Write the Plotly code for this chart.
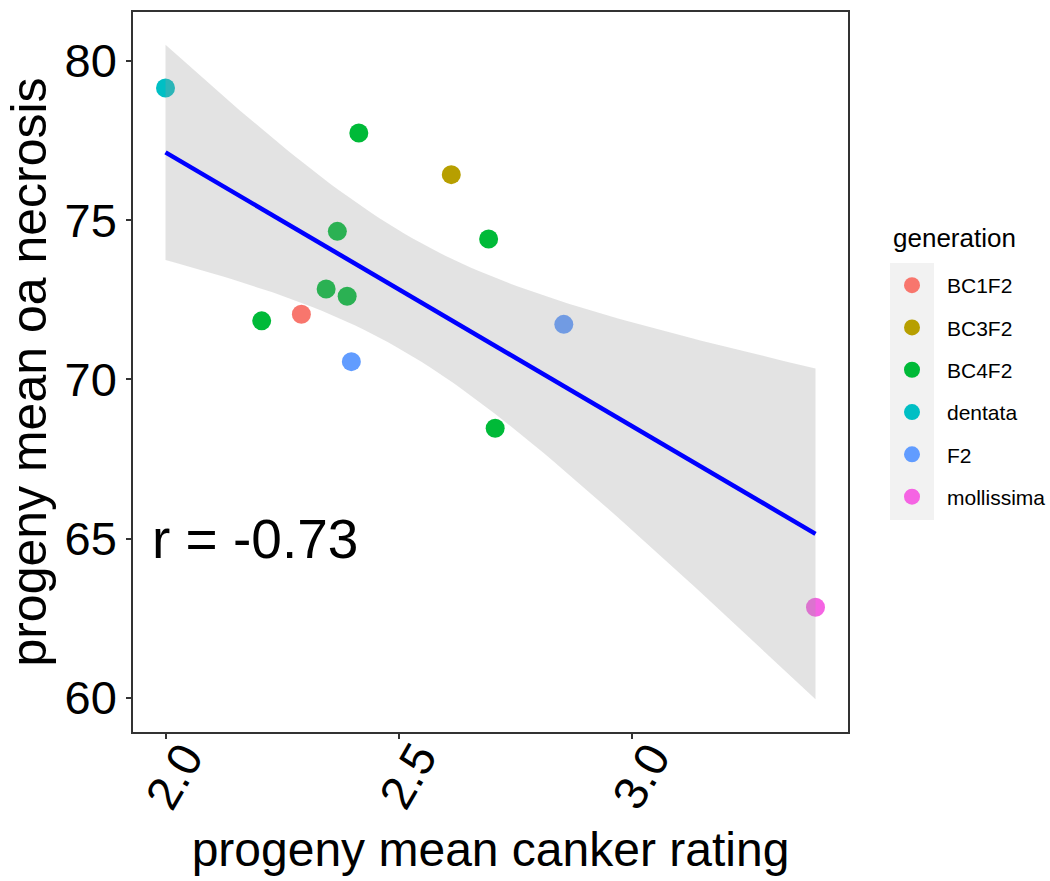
import numpy as np
import plotly.graph_objects as go

# ---- data ----
generations = ["BC1F2", "BC3F2", "BC4F2", "dentata", "F2", "mollissima"]
colors = ["#F8766D", "#B79F00", "#00BA38", "#00BFC4", "#619CFF", "#F564E3"]

bc1f2_x = [2.291]
bc1f2_y = [72.05]
bc3f2_x = [2.612]
bc3f2_y = [76.43]
bc4f2_x = [2.414, 2.368, 2.344, 2.389, 2.206, 2.692, 2.706]
bc4f2_y = [77.74, 74.65, 72.84, 72.61, 71.84, 74.41, 68.47]
dentata_x = [2.000]
dentata_y = [79.15]
f2_x = [2.398, 2.853]
f2_y = [70.56, 71.73]
mollissima_x = [3.392]
mollissima_y = [62.85]

r_label = "r = -0.73"
x_ticks = [2.0, 2.5, 3.0]
x_ticktext = ["2.0", "2.5", "3.0"]
y_ticks = [60, 65, 70, 75, 80]

series = {
    "BC1F2": (bc1f2_x, bc1f2_y),
    "BC3F2": (bc3f2_x, bc3f2_y),
    "BC4F2": (bc4f2_x, bc4f2_y),
    "dentata": (dentata_x, dentata_y),
    "F2": (f2_x, f2_y),
    "mollissima": (mollissima_x, mollissima_y),
}

# ---- linear fit + 95% CI (as geom_smooth(method="lm")) ----
all_x = np.array(sum([series[g][0] for g in generations], []), dtype=float)
all_y = np.array(sum([series[g][1] for g in generations], []), dtype=float)
n = len(all_x)
b1, b0 = np.polyfit(all_x, all_y, 1)
resid = all_y - (b0 + b1 * all_x)
s = np.sqrt(np.sum(resid ** 2) / (n - 2))
xbar = all_x.mean()
sxx = np.sum((all_x - xbar) ** 2)
t_crit = 2.200985  # t(0.975, df=11)
grid = np.linspace(all_x.min(), all_x.max(), 80)
fit = b0 + b1 * grid
se = s * np.sqrt(1.0 / n + (grid - xbar) ** 2 / sxx)
upper = fit + t_crit * se
lower = fit - t_crit * se

# ggplot-like expanded ranges (5%)
xr = all_x.max() - all_x.min()
x_range = [all_x.min() - 0.05 * xr, all_x.max() + 0.05 * xr]
ymin = min(all_y.min(), lower.min())
ymax = max(all_y.max(), upper.max())
yr = ymax - ymin
y_range = [ymin - 0.05 * yr, ymax + 0.05 * yr]

FONT = "Liberation Sans, Arial, sans-serif"
fig = go.Figure()

for g, c in zip(generations, colors):
    xs, ys = series[g]
    fig.add_trace(go.Scatter(
        x=xs, y=ys, mode="markers", name=g, legendgroup=g,
        marker=dict(color=c, size=19, line=dict(width=0)),
    ))

# confidence band drawn over the points (like ggplot's smooth layer)
fig.add_trace(go.Scatter(
    x=np.concatenate([grid, grid[::-1]]),
    y=np.concatenate([upper, lower[::-1]]),
    fill="toself", fillcolor="rgba(153,153,153,0.28)",
    line=dict(width=0), mode="lines", showlegend=False, hoverinfo="skip",
))
fig.add_trace(go.Scatter(
    x=grid, y=fit, mode="lines", line=dict(color="#0000FF", width=4.5),
    showlegend=False,
))

fig.add_annotation(
    x=x_range[0], y=65, xref="x", yref="y", text=r_label, showarrow=False,
    xanchor="left", yanchor="middle", xshift=17,
    font=dict(family=FONT, size=55, color="black"),
)

# rotated x tick labels (ggplot angle=60, hjust=1)
for v, t in zip(x_ticks, x_ticktext):
    fig.add_annotation(
        x=v, y=0, xref="x", yref="paper", text=t, showarrow=False,
        textangle=-60, xanchor="right", yanchor="top", xshift=50, yshift=0,
        font=dict(family=FONT, size=47, color="black"),
    )

L, R, T, B = 133, 202, 12, 149
W, H = 1050, 881
pw, ph = W - L - R, H - T - B

def px_x(p):
    return (p - L) / pw

def px_y(p):
    return (H - B - p) / ph

# grey95 background behind legend keys
fig.add_shape(type="rect", xref="paper", yref="paper",
              x0=px_x(890), x1=px_x(934), y0=px_y(520), y1=px_y(263),
              fillcolor="#F2F2F2", line=dict(width=0), layer="below")

# legend title
fig.add_annotation(
    x=px_x(891), y=px_y(238), xref="paper", yref="paper", text="generation",
    showarrow=False, xanchor="left", yanchor="middle",
    font=dict(family=FONT, size=26, color="black"),
)

axis_common = dict(
    showgrid=False, zeroline=False, showline=True, linecolor="#333333",
    linewidth=1.5, mirror=True, ticks="outside", ticklen=5, tickwidth=1.5,
    tickcolor="#333333", automargin=False,
    tickfont=dict(family=FONT, size=47, color="black"),
)

fig.update_layout(
    width=W, height=H,
    margin=dict(l=L, r=R, t=T, b=B, autoexpand=False),
    paper_bgcolor="white", plot_bgcolor="white",
    font=dict(family=FONT, color="black"),
    xaxis=dict(range=x_range, tickvals=x_ticks, showticklabels=False,
               title=dict(text="progeny mean canker rating", standoff=95,
                          font=dict(size=48, color="black")),
               **axis_common),
    yaxis=dict(range=y_range, tickvals=y_ticks,
               title=dict(text="progeny mean oa necrosis", standoff=2,
                          font=dict(size=50, color="black")),
               **axis_common),
    legend=dict(
        font=dict(family=FONT, size=21, color="black"),
        x=px_x(877), y=px_y(265), xanchor="left", yanchor="top",
        bgcolor="rgba(0,0,0,0)", itemwidth=60, tracegroupgap=12,
    ),
    showlegend=True,
)

fig.write_html("out.html")
